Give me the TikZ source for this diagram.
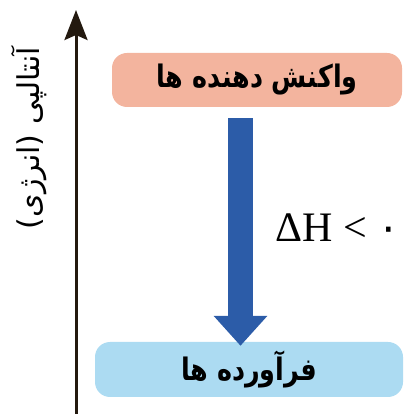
\documentclass[tikz,border=0pt]{standalone}
\usepackage{fontspec}
\usepackage{xcolor}
\usepackage{tikz}
\usetikzlibrary{arrows.meta, positioning, calc}
\setmainfont{Liberation Serif}
\newfontfamily\farsifont[Script=Arabic]{DejaVu Sans}
\newfontfamily\farsinarrow[Script=Arabic, FakeStretch=0.82]{DejaVu Sans}
\TeXXeTstate=1
\definecolor{mypink}{RGB}{243,180,158}
\definecolor{myblue}{RGB}{172,219,242}
\definecolor{myarrow}{RGB}{44,92,168}
\definecolor{myaxis}{RGB}{35,25,15}
\tikzset{
  pinkbox/.style={rectangle, fill=mypink, minimum width=290pt,
    minimum height=54pt, rounded corners=15pt,
    font=\farsinarrow\bfseries\fontsize{31}{34}\selectfont},
  bluebox/.style={rectangle, fill=myblue, minimum width=308pt,
    minimum height=55pt, rounded corners=15pt,
    font=\farsinarrow\bfseries\fontsize{31}{34}\selectfont},
  axis/.style={-{Stealth[length=30pt, width=23pt, inset=5pt]},
    line width=3pt, color=myaxis},
  bigarrow/.style={-{Triangle[length=30pt, width=52pt]},
    line width=25pt, color=myarrow},
  axislabel/.style={rotate=90, font=\farsifont\fontsize{30}{34}\selectfont}
}

\begin{document}
\begin{tikzpicture}[x=1pt, y=1pt]
  \useasboundingbox (0,0) rectangle (404,414);
  % Energy axis
  \coordinate (axisbot) at (76,0);
  \coordinate (axistop) at (76,404);
  \draw[axis] (axisbot) -- (axistop);
  \node[axislabel] (enthalpy) at (29,276) {\beginR آنتالپی (انرژی)\endR};
  % Reactants and products
  \node[pinkbox] (reac) at (257,334) {\beginR واکنش دهنده ها\endR};
  \node[bluebox] (prod) at (249,44.5) {\beginR فرآورده ها\endR};

  \draw[bigarrow] ([xshift=-16.5pt, yshift=-11pt]reac.south)
    -- ([xshift=-8.5pt, yshift=-4pt]prod.north);
  \node[font=\fontsize{42}{46}\selectfont] (dh) at (338,186)
    {ΔH < {\farsifont ۰}};
\end{tikzpicture}
\end{document}
